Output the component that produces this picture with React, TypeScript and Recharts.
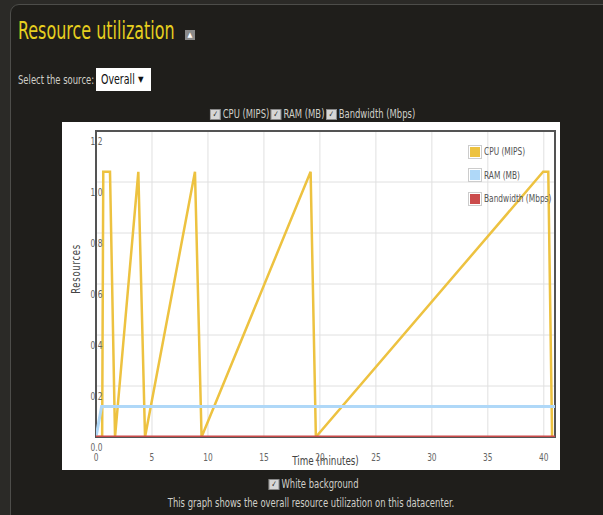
import React from 'react';
import { LineChart, Line, XAxis, YAxis, CartesianGrid, ReferenceArea, Label } from 'recharts';

// CPU (MIPS) samples: time in minutes, value
const cpuTimes = [0, 0.55, 0.65, 1.25, 1.7, 3.78, 4.38, 8.84, 9.43, 19.17, 19.64, 39.94, 40.4, 40.74];
const cpuValues = [0, 0, 1.04, 1.04, 0, 1.04, 0, 1.04, 0, 1.04, 0, 1.04, 1.04, 0];

// RAM (MB)
const ramTimes = [0, 0.5, 41];
const ramValues = [0, 0.12, 0.12];

// Bandwidth (Mbps)
const bwTimes = [0, 41];
const bwValues = [0, 0];

const xTicks = [0, 5, 10, 15, 20, 25, 30, 35, 40];
const yTicks = [0, 0.2, 0.4, 0.6, 0.8, 1.0, 1.2];

const seriesNames = ['CPU (MIPS)', 'RAM (MB)', 'Bandwidth (Mbps)'];
const seriesColors = ['#edc240', '#afd8f8', '#cb4b4b'];

const cpuData = cpuTimes.map((t, i) => ({ t, v: cpuValues[i] }));
const ramData = ramTimes.map((t, i) => ({ t, v: ramValues[i] }));
const bwData = bwTimes.map((t, i) => ({ t, v: bwValues[i] }));

const FONT = '"DejaVu Sans Condensed", "DejaVu Sans", sans-serif';
const SQ = 0.75; // horizontal squeeze to match the narrow font of the original

// inline text squeezed horizontally
const Nt = ({ children, origin = 'center', k = SQ }: { children: React.ReactNode; origin?: string; k?: number }) => (
  <span style={{ display: 'inline-block', transform: `scaleX(${k})`, transformOrigin: origin, whiteSpace: 'nowrap' }}>
    {children}
  </span>
);

const XTick = (props: any) => {
  const { x, y, payload } = props;
  return (
    <text transform={`translate(${x},${y + 18}) scale(${SQ},1)`} textAnchor="middle" dominantBaseline="central" fill="#666" fontSize={11} fontFamily={FONT}>
      {payload.value}
    </text>
  );
};

const YTick = (props: any) => {
  const { y, payload } = props;
  return (
    <text transform={`translate(34.5,${y + 10.5}) scale(${SQ},1)`} textAnchor="middle" dominantBaseline="central" fill="#666" fontSize={11} fontFamily={FONT}>
      {Number(payload.value).toFixed(1)}
    </text>
  );
};

const XLabel = (props: any) => {
  const vb = props.viewBox;
  return (
    <text transform={`translate(${vb.x + vb.width / 2},${vb.y + 23}) scale(${SQ},1)`} textAnchor="middle" dominantBaseline="central" fill="#444" fontSize={13} fontFamily={FONT}>
      Time (minutes)
    </text>
  );
};

const YLabel = (props: any) => {
  const vb = props.viewBox;
  const cy = vb.y + vb.height / 2 - 15;
  return (
    <text transform={`translate(14,${cy}) rotate(-90) scale(${SQ},1)`} textAnchor="middle" dominantBaseline="central" fill="#444" fontSize={12.5} fontFamily={FONT} letterSpacing={1}>
      Resources
    </text>
  );
};

// checkbox drawn 12px wide so that it is ~9px after the row is squeezed
const Check = () => (
  <span
    style={{
      display: 'inline-block',
      width: 12,
      height: 9,
      background: '#d6d6d6',
      border: '1px solid #888',
      color: '#222',
      fontSize: 9,
      lineHeight: '9px',
      textAlign: 'center',
      verticalAlign: 'middle',
      marginRight: 3,
      marginLeft: 2,
    }}
  >
    ✓
  </span>
);

const rowText: React.CSSProperties = { position: 'absolute', textAlign: 'center', fontSize: 12.5, lineHeight: '16px', color: '#cfcfc8', whiteSpace: 'nowrap' };

export default function App() {
  return (
    <div style={{ position: 'absolute', left: 0, top: 0, width: 603, height: 515, background: '#2b2a27', overflow: 'hidden', fontFamily: FONT }}>
      <div
        style={{
          position: 'absolute',
          left: 10,
          top: 4,
          width: 620,
          height: 540,
          background: '#1f1e1b',
          border: '1px solid #4d4d4a',
          borderTopLeftRadius: 9,
        }}
      />
      <div style={{ position: 'absolute', left: 18, top: 17, fontSize: 25, lineHeight: '28px', color: '#e6cf1f', whiteSpace: 'nowrap' }}>
        <Nt origin="left" k={0.71}>Resource utilization</Nt>
      </div>
      <div
        style={{
          position: 'absolute',
          left: 185,
          top: 30,
          width: 10,
          height: 10,
          background: '#8a8a8a',
          color: '#fff',
          fontSize: 7,
          lineHeight: '10px',
          textAlign: 'center',
        }}
      >
        ▲
      </div>
      <div style={{ ...rowText, left: 18, top: 72, textAlign: 'left' }}>
        <Nt origin="left">Select the source:</Nt>
      </div>
      <div
        style={{
          position: 'absolute',
          left: 96,
          top: 68,
          width: 55,
          height: 23,
          background: '#fff',
          color: '#111',
          fontSize: 14,
          lineHeight: '23px',
          boxSizing: 'border-box',
          paddingLeft: 5,
          whiteSpace: 'nowrap',
        }}
      >
        <Nt origin="left">Overall</Nt>
        <span style={{ position: 'absolute', left: 42, top: 0, fontSize: 8 }}>▼</span>
      </div>
      <div style={{ ...rowText, left: 0, width: 623, top: 106 }}>
        <Nt>
          <Check />CPU (MIPS)<Check />RAM (MB)<Check />Bandwidth (Mbps)
        </Nt>
      </div>
      <div style={{ position: 'absolute', left: 62, top: 122, width: 498, height: 348, background: '#fff' }}>
        <LineChart width={498} height={348} margin={{ top: 9, right: 5, bottom: 0, left: 0 }}>
          <CartesianGrid stroke="#e0e0e0" strokeWidth={1} />
          <XAxis
            type="number"
            dataKey="t"
            domain={[0, 41]}
            ticks={xTicks}
            height={33}
            axisLine={false}
            tickLine={false}
            tickSize={0}
            tick={<XTick />}
            interval={0}
            allowDataOverflow
          >
            <Label content={<XLabel />} />
          </XAxis>
          <YAxis
            type="number"
            dataKey="v"
            domain={[0, 1.2]}
            ticks={yTicks}
            width={34}
            axisLine={false}
            tickLine={false}
            tickSize={0}
            tick={<YTick />}
            interval={0}
            allowDataOverflow
          >
            <Label content={<YLabel />} />
          </YAxis>
          <ReferenceArea x1={0} x2={41} y1={0} y2={1.2} fill="none" stroke="#545454" strokeWidth={2} ifOverflow="visible" />
          <Line data={cpuData} dataKey="v" name={seriesNames[0]} stroke={seriesColors[0]} strokeWidth={2.5} dot={false} isAnimationActive={false} type="linear" />
          <Line data={ramData} dataKey="v" name={seriesNames[1]} stroke={seriesColors[1]} strokeWidth={3} dot={false} isAnimationActive={false} type="linear" />
          <Line data={bwData} dataKey="v" name={seriesNames[2]} stroke={seriesColors[2]} strokeWidth={3} dot={false} isAnimationActive={false} type="linear" />
        </LineChart>
        <div style={{ position: 'absolute', left: 406, top: 18, fontSize: 11, color: '#545454' }}>
          {seriesNames.map((n, i) => (
            <div key={n} style={{ display: 'flex', alignItems: 'center', height: 23.5, whiteSpace: 'nowrap' }}>
              <div style={{ border: '1px solid #ccc', padding: 1, marginRight: 2 }}>
                <div style={{ width: 10, height: 10, background: seriesColors[i] }} />
              </div>
              <Nt origin="left">{n}</Nt>
            </div>
          ))}
        </div>
      </div>
      <div style={{ ...rowText, left: 0, width: 626, top: 476 }}>
        <Nt>
          <Check />White background
        </Nt>
      </div>
      <div style={{ ...rowText, left: 0, width: 622, top: 495 }}>
        <Nt>This graph shows the overall resource utilization on this datacenter.</Nt>
      </div>
    </div>
  );
}
